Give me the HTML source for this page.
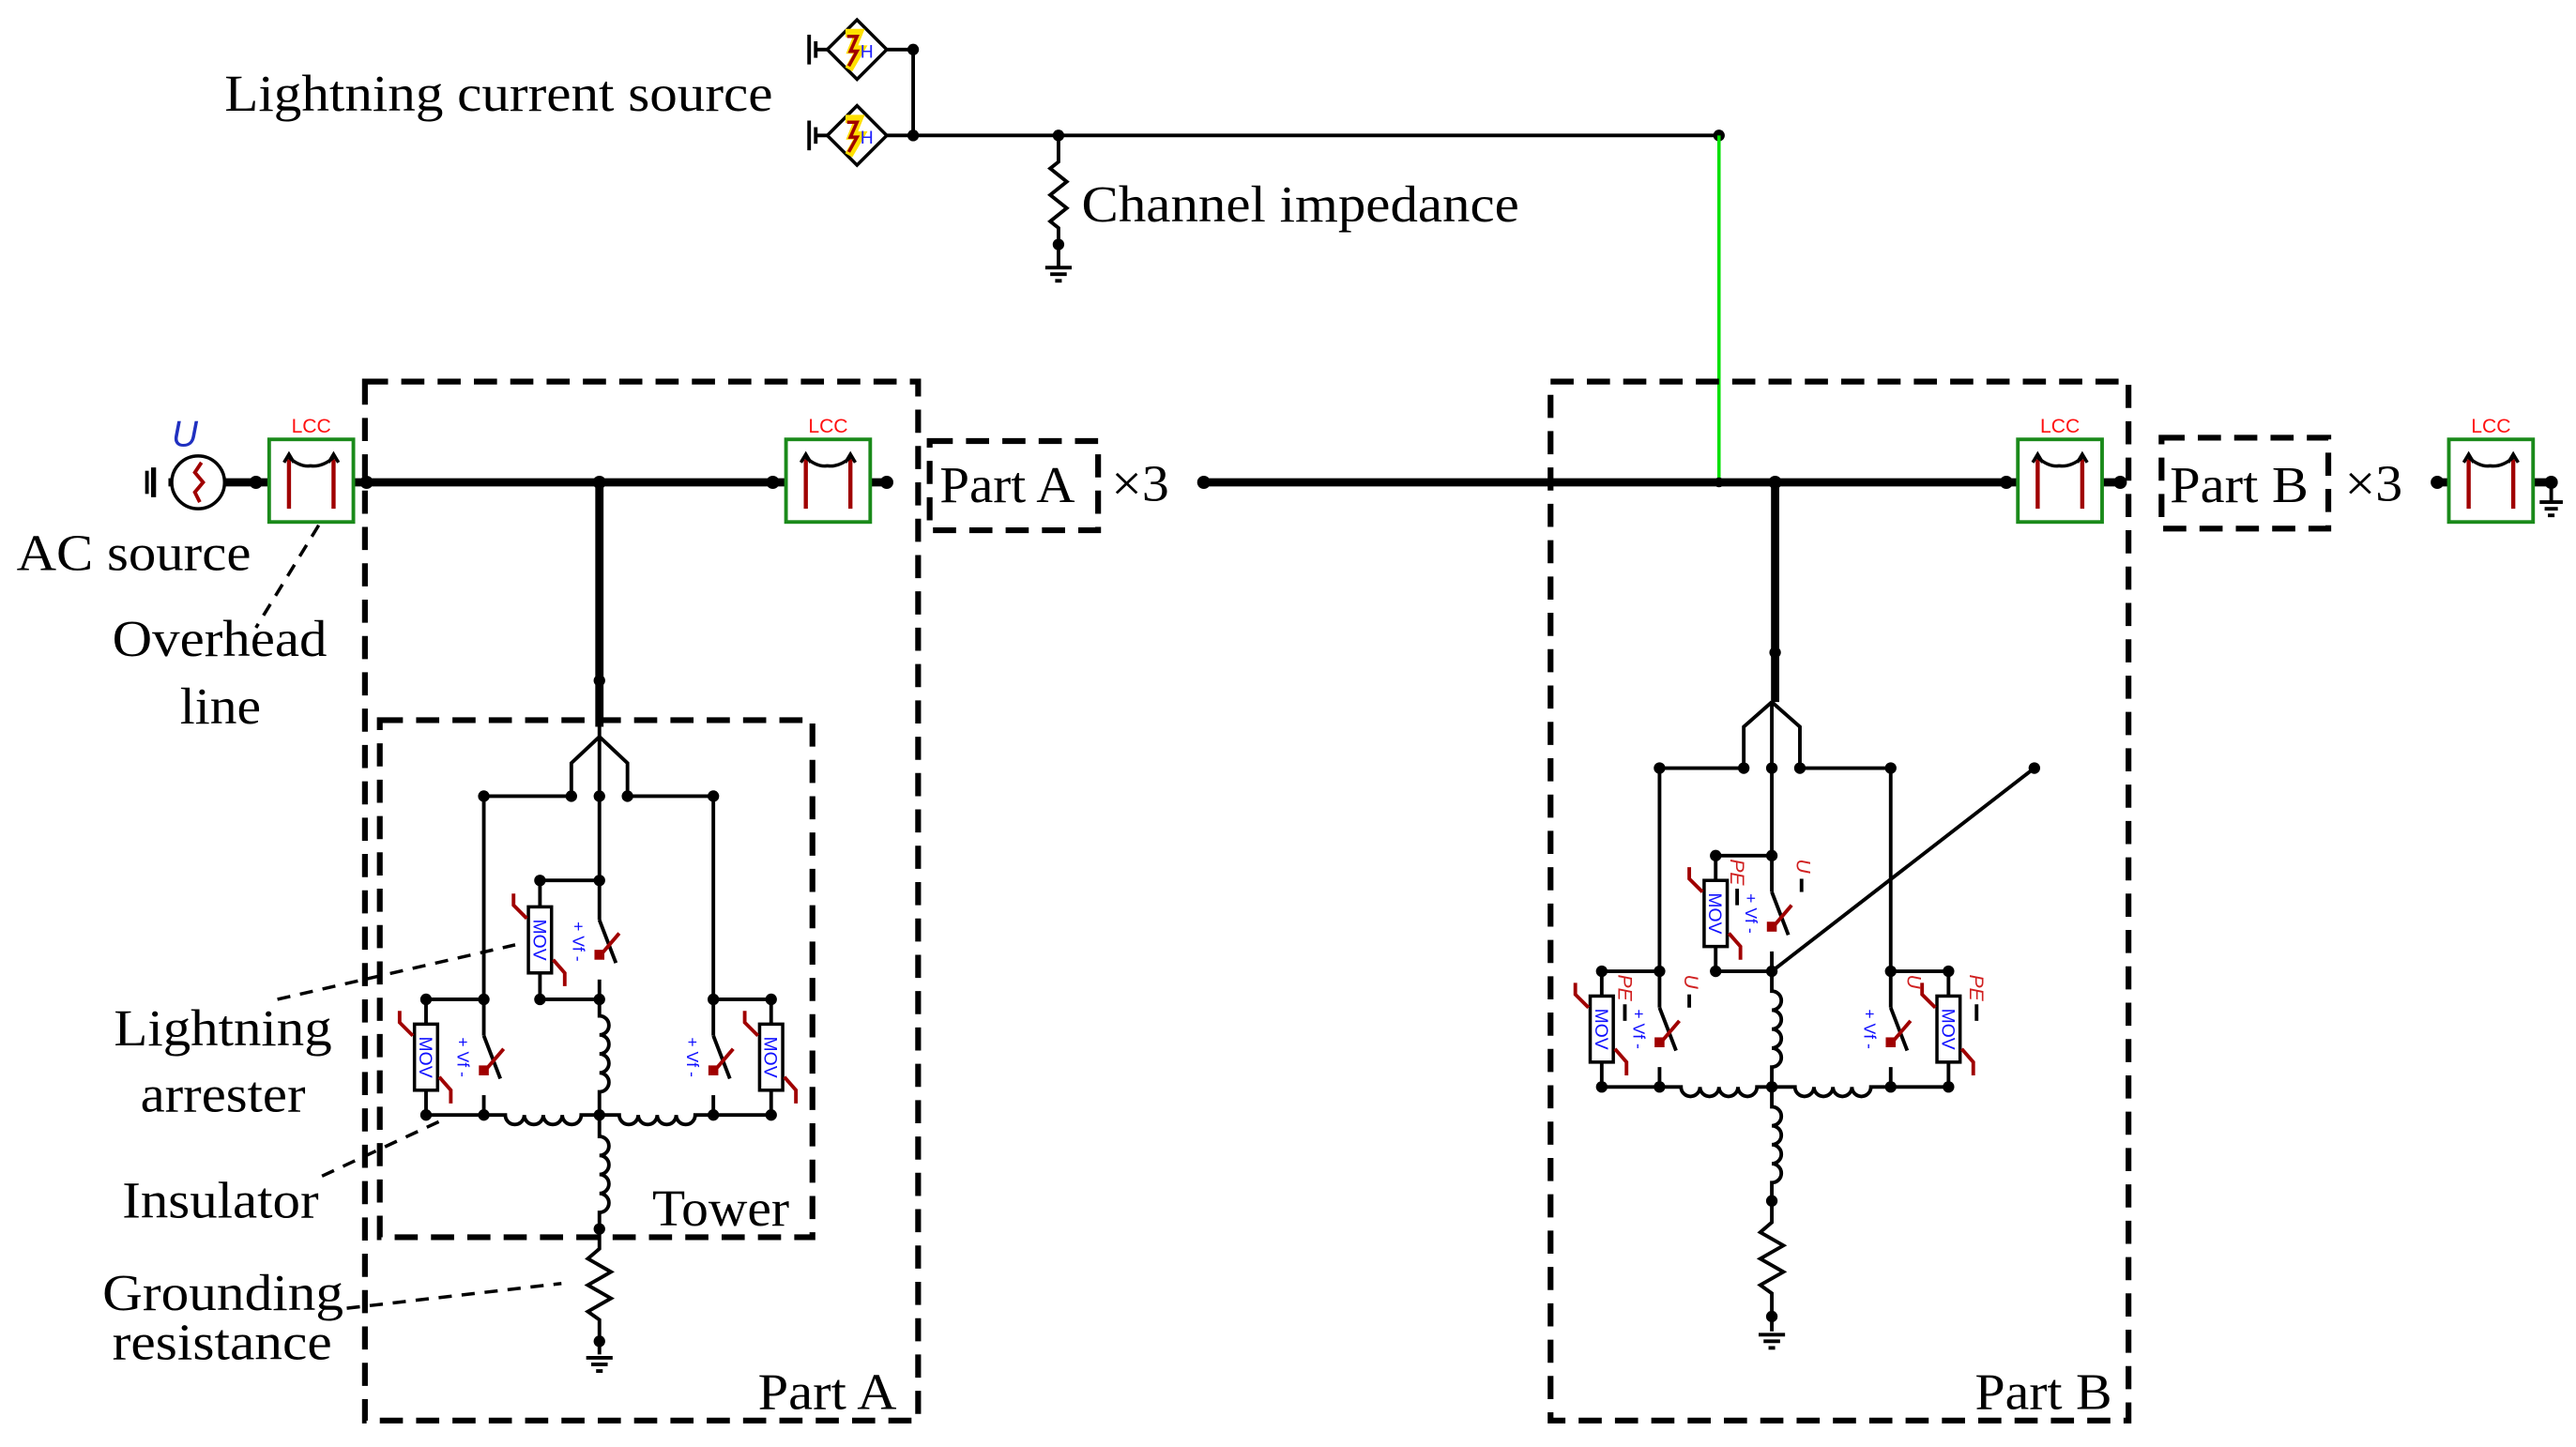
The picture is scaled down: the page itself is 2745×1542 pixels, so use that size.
<!DOCTYPE html>
<html><head><meta charset="utf-8"><style>
html,body{margin:0;padding:0;background:#fff;}
svg{display:block;}
.t{font-family:"Liberation Serif",serif;font-size:31px;fill:#000;}
.w{stroke:#000;stroke-width:2.2;fill:none;}
.b{stroke:#000;stroke-width:5;fill:none;}
.d{stroke:#000;stroke-width:3.5;fill:none;stroke-dasharray:14 8;}
.l{stroke:#000;stroke-width:2;fill:none;stroke-dasharray:8 6;}
.r{stroke:#a00000;stroke-width:2.2;fill:none;}
.mv{font-family:"Liberation Sans",sans-serif;font-size:11px;fill:#1010ff;}
.vf{font-family:"Liberation Sans",sans-serif;font-size:10px;fill:#1010ff;}
.pe{font-family:"Liberation Sans",sans-serif;font-size:12px;fill:#d02020;font-style:italic;}
.lcc{font-family:"Liberation Sans",sans-serif;font-size:12px;fill:#ff1010;}
</style></head><body>
<svg width="2745" height="1542" viewBox="0 0 1560 876" preserveAspectRatio="none" xmlns="http://www.w3.org/2000/svg">
<rect width="1560" height="876" fill="#fff"/>

<!-- Lightning current sources -->
<g>
 <line class="w" x1="490" y1="21" x2="490" y2="39"/><line class="w" x1="494" y1="25" x2="494" y2="35"/><line class="w" x1="494" y1="30" x2="502" y2="30"/>
 <polygon points="519,12 537,30 519,48 501,30" fill="#fff" stroke="#000" stroke-width="2"/>
 <path d="M512,20 L520,20 L516,30 L521,30 L514,42" stroke="#ffe000" stroke-width="5" fill="none"/>
 <path d="M513,22 L519,22 L515,31 L519,31 L514,40" stroke="#a00000" stroke-width="2" fill="none"/>
 <text x="521" y="35" font-family="Liberation Sans,sans-serif" font-size="11" fill="#2020ff">H</text>
 <line class="w" x1="490" y1="73" x2="490" y2="91"/><line class="w" x1="494" y1="77" x2="494" y2="87"/><line class="w" x1="494" y1="82" x2="502" y2="82"/>
 <polygon points="519,64 537,82 519,100 501,82" fill="#fff" stroke="#000" stroke-width="2"/>
 <path d="M512,72 L520,72 L516,82 L521,82 L514,94" stroke="#ffe000" stroke-width="5" fill="none"/>
 <path d="M513,74 L519,74 L515,83 L519,83 L514,92" stroke="#a00000" stroke-width="2" fill="none"/>
 <text x="521" y="87" font-family="Liberation Sans,sans-serif" font-size="11" fill="#2020ff">H</text>
 <line class="w" x1="537" y1="30" x2="553" y2="30"/><line class="w" x1="537" y1="82" x2="1041" y2="82"/>
 <line class="w" x1="553" y1="30" x2="553" y2="82"/>
 <circle cx="553" cy="30" r="3.5"/><circle cx="553" cy="82" r="3.5"/><circle cx="641" cy="82" r="3.5"/><circle cx="1041" cy="82" r="3.5"/>
 <path class="w" d="M641,82 L641,98 L636,102 L646,110 L636,118 L646,126 L636,134 L641,138 L641,162"/>
 <circle cx="641" cy="148" r="3.5"/>
 <line class="w" x1="633" y1="162" x2="649" y2="162"/><line class="w" x1="636" y1="166" x2="646" y2="166"/><line class="w" x1="639" y1="170" x2="643" y2="170"/>
 <line x1="1041" y1="82" x2="1041" y2="292" stroke="#00e000" stroke-width="2"/>
</g>
<text class="t" x="136" y="67" textLength="332" lengthAdjust="spacingAndGlyphs">Lightning current source</text>
<text class="t" x="655" y="134" textLength="265" lengthAdjust="spacingAndGlyphs">Channel impedance</text>

<!-- Dashed boxes -->
<rect class="d" x="221" y="231" width="335" height="629"/>
<rect class="d" x="230" y="436" width="262" height="313"/>
<rect class="d" x="939" y="231" width="350" height="629"/>
<rect class="d" x="563" y="267" width="102" height="54"/>
<rect class="d" x="1309" y="265" width="101" height="55"/>

<!-- Main bus -->
<line class="b" x1="102" y1="292" x2="163" y2="292"/>
<line class="b" x1="214" y1="292" x2="476" y2="292"/>
<line class="b" x1="527" y1="292" x2="537" y2="292"/>
<line class="b" x1="727" y1="292" x2="1222" y2="292"/>
<line class="b" x1="1273" y1="292" x2="1284" y2="292"/>
<line class="b" x1="1474" y1="292" x2="1484" y2="292"/>
<line class="b" x1="1534" y1="292" x2="1545" y2="292"/>
<circle cx="155" cy="292" r="4"/><circle cx="222" cy="292" r="4"/><circle cx="468" cy="292" r="4"/><circle cx="537" cy="292" r="4"/>
<circle cx="363" cy="292" r="4"/><circle cx="729" cy="292" r="4"/><circle cx="1041" cy="292" r="3"/><circle cx="1075" cy="292" r="4"/>
<circle cx="1215" cy="292" r="4"/><circle cx="1284" cy="292" r="4"/><circle cx="1476" cy="292" r="4"/><circle cx="1545" cy="292" r="4"/>
<line class="w" x1="1545" y1="292" x2="1545" y2="304"/><line class="w" x1="1538" y1="304" x2="1552" y2="304"/><line class="w" x1="1541" y1="308" x2="1549" y2="308"/><line class="w" x1="1543" y1="312" x2="1547" y2="312"/>

<!-- AC source -->
<line class="w" x1="89" y1="285" x2="89" y2="299"/><line stroke="#000" stroke-width="3" x1="93" y1="283" x2="93" y2="301"/>
<circle cx="120" cy="292" r="16" fill="#fff" stroke="#000" stroke-width="2"/>
<path class="r" d="M122,280 L118,286 L123,292 L118,298 L121,304"/>
<text x="104" y="270" font-family="Liberation Sans,sans-serif" font-size="22" font-style="italic" fill="#2030c0">U</text>

<!-- LCC blocks -->
<g id="lcc1">
<rect x="163" y="266" width="51" height="50" fill="#fff" stroke="#1a8a1a" stroke-width="2.2"/>
<line stroke="#a00000" stroke-width="2.5" x1="175" y1="278" x2="175" y2="308"/><line stroke="#a00000" stroke-width="2.5" x1="202" y1="278" x2="202" y2="308"/>
<path d="M172,280 L175,275 L178,280 M199,280 L202,275 L205,280" stroke="#000" stroke-width="2" fill="none"/>
<path d="M175,277 Q182,283 188,282 Q195,283 202,277" stroke="#000" stroke-width="2" fill="none"/>
<text class="lcc" x="188.5" y="262" text-anchor="middle">LCC</text>
</g>
<g transform="translate(313,0)">
<rect x="163" y="266" width="51" height="50" fill="#fff" stroke="#1a8a1a" stroke-width="2.2"/>
<line stroke="#a00000" stroke-width="2.5" x1="175" y1="278" x2="175" y2="308"/><line stroke="#a00000" stroke-width="2.5" x1="202" y1="278" x2="202" y2="308"/>
<path d="M172,280 L175,275 L178,280 M199,280 L202,275 L205,280" stroke="#000" stroke-width="2" fill="none"/>
<path d="M175,277 Q182,283 188,282 Q195,283 202,277" stroke="#000" stroke-width="2" fill="none"/>
<text class="lcc" x="188.5" y="262" text-anchor="middle">LCC</text>
</g>
<g transform="translate(1059,0)">
<rect x="163" y="266" width="51" height="50" fill="#fff" stroke="#1a8a1a" stroke-width="2.2"/>
<line stroke="#a00000" stroke-width="2.5" x1="175" y1="278" x2="175" y2="308"/><line stroke="#a00000" stroke-width="2.5" x1="202" y1="278" x2="202" y2="308"/>
<path d="M172,280 L175,275 L178,280 M199,280 L202,275 L205,280" stroke="#000" stroke-width="2" fill="none"/>
<path d="M175,277 Q182,283 188,282 Q195,283 202,277" stroke="#000" stroke-width="2" fill="none"/>
<text class="lcc" x="188.5" y="262" text-anchor="middle">LCC</text>
</g>
<g transform="translate(1320,0)">
<rect x="163" y="266" width="51" height="50" fill="#fff" stroke="#1a8a1a" stroke-width="2.2"/>
<line stroke="#a00000" stroke-width="2.5" x1="175" y1="278" x2="175" y2="308"/><line stroke="#a00000" stroke-width="2.5" x1="202" y1="278" x2="202" y2="308"/>
<path d="M172,280 L175,275 L178,280 M199,280 L202,275 L205,280" stroke="#000" stroke-width="2" fill="none"/>
<path d="M175,277 Q182,283 188,282 Q195,283 202,277" stroke="#000" stroke-width="2" fill="none"/>
<text class="lcc" x="188.5" y="262" text-anchor="middle">LCC</text>
</g>

<text class="t" x="569" y="304" textLength="82" lengthAdjust="spacingAndGlyphs">Part A</text>
<text class="t" x="673" y="303" textLength="35" lengthAdjust="spacingAndGlyphs">×3</text>
<text class="t" x="1314" y="304" textLength="84" lengthAdjust="spacingAndGlyphs">Part B</text>
<text class="t" x="1420" y="303" textLength="35" lengthAdjust="spacingAndGlyphs">×3</text>

<!-- Part A tower -->
<line class="b" x1="363" y1="292" x2="363" y2="440"/>
<circle cx="363" cy="412" r="3.5"/>
<path class="w" d="M363,440 L363,533 M363,446 L346,462 L346,482 M363,446 L380,462 L380,482"/>
<line class="w" x1="293" y1="482" x2="346" y2="482"/><line class="w" x1="380" y1="482" x2="432" y2="482"/>
<line class="w" x1="293" y1="482" x2="293" y2="605"/><line class="w" x1="432" y1="482" x2="432" y2="605"/>
<circle cx="293" cy="482" r="3.5"/><circle cx="346" cy="482" r="3.5"/><circle cx="363" cy="482" r="3.5"/><circle cx="380" cy="482" r="3.5"/><circle cx="432" cy="482" r="3.5"/>

<!-- unit A center -->
<g transform="translate(363,533)">
 <line class="w" x1="0" y1="0" x2="-36" y2="0"/><line class="w" x1="-36" y1="0" x2="-36" y2="72"/><line class="w" x1="-36" y1="72" x2="0" y2="72"/>
 <rect x="-43" y="16" width="14" height="40" fill="#fff" stroke="#000" stroke-width="2"/>
 <text class="mv" transform="translate(-40,36) rotate(90)" text-anchor="middle">MOV</text>
 <polyline class="r" points="-52,8 -52,15 -44,23"/><polyline class="r" points="-28,48 -21,56 -21,64"/>
 <line class="w" x1="0" y1="0" x2="0" y2="24"/><line class="w" x1="0" y1="24" x2="10" y2="50"/><line class="w" x1="0" y1="60" x2="0" y2="72"/>
 <rect x="-3" y="42" width="6" height="6" fill="#a00000"/><line class="r" x1="0" y1="46" x2="12" y2="32"/>
 <text class="vf" transform="translate(-16,37) rotate(90)" text-anchor="middle">+ Vf -</text>
 <circle cx="0" cy="0" r="3.5"/><circle cx="-36" cy="0" r="3.5"/><circle cx="-36" cy="72" r="3.5"/><circle cx="0" cy="72" r="3.5"/>
</g>
<!-- unit A left -->
<g transform="translate(293,605)">
 <line class="w" x1="0" y1="0" x2="-35" y2="0"/><line class="w" x1="-35" y1="0" x2="-35" y2="70"/><line class="w" x1="-35" y1="70" x2="0" y2="70"/>
 <rect x="-42" y="15" width="14" height="40" fill="#fff" stroke="#000" stroke-width="2"/>
 <text class="mv" transform="translate(-39,35) rotate(90)" text-anchor="middle">MOV</text>
 <polyline class="r" points="-51,7 -51,14 -43,22"/><polyline class="r" points="-27,47 -20,55 -20,63"/>
 <line class="w" x1="0" y1="0" x2="0" y2="22"/><line class="w" x1="0" y1="22" x2="10" y2="48"/><line class="w" x1="0" y1="58" x2="0" y2="70"/>
 <rect x="-3" y="40" width="6" height="6" fill="#a00000"/><line class="r" x1="0" y1="44" x2="12" y2="30"/>
 <text class="vf" transform="translate(-16,35) rotate(90)" text-anchor="middle">+ Vf -</text>
 <circle cx="0" cy="0" r="3.5"/><circle cx="-35" cy="0" r="3.5"/><circle cx="-35" cy="70" r="3.5"/><circle cx="0" cy="70" r="3.5"/>
</g>
<!-- unit A right -->
<g transform="translate(432,605)">
 <line class="w" x1="0" y1="0" x2="35" y2="0"/><line class="w" x1="35" y1="0" x2="35" y2="70"/><line class="w" x1="35" y1="70" x2="0" y2="70"/>
 <rect x="28" y="15" width="14" height="40" fill="#fff" stroke="#000" stroke-width="2"/>
 <text class="mv" transform="translate(31,35) rotate(90)" text-anchor="middle">MOV</text>
 <polyline class="r" points="19,7 19,14 27,22"/><polyline class="r" points="43,47 50,55 50,63"/>
 <line class="w" x1="0" y1="0" x2="0" y2="22"/><line class="w" x1="0" y1="22" x2="10" y2="48"/><line class="w" x1="0" y1="58" x2="0" y2="70"/>
 <rect x="-3" y="40" width="6" height="6" fill="#a00000"/><line class="r" x1="0" y1="44" x2="12" y2="30"/>
 <text class="vf" transform="translate(-16,35) rotate(90)" text-anchor="middle">+ Vf -</text>
 <circle cx="0" cy="0" r="3.5"/><circle cx="35" cy="0" r="3.5"/><circle cx="35" cy="70" r="3.5"/><circle cx="0" cy="70" r="3.5"/>
</g>
<!-- A inductors -->
<path class="w" d="M363,605 L363,615 a5.75,5.75 0 0 1 0,11.5 a5.75,5.75 0 0 1 0,11.5 a5.75,5.75 0 0 1 0,11.5 a5.75,5.75 0 0 1 0,11.5 L363,675"/>
<path class="w" d="M293,675 L306,675 a5.75,5.75 0 0 0 11.5,0 a5.75,5.75 0 0 0 11.5,0 a5.75,5.75 0 0 0 11.5,0 a5.75,5.75 0 0 0 11.5,0 L375,675 a5.75,5.75 0 0 0 11.5,0 a5.75,5.75 0 0 0 11.5,0 a5.75,5.75 0 0 0 11.5,0 a5.75,5.75 0 0 0 11.5,0 L432,675"/>
<circle cx="363" cy="675" r="3.5"/>
<path class="w" d="M363,675 L363,688 a5.75,5.75 0 0 1 0,11.5 a5.75,5.75 0 0 1 0,11.5 a5.75,5.75 0 0 1 0,11.5 a5.75,5.75 0 0 1 0,11.5 L363,756 L356,762 L370,770 L356,778 L370,786 L356,794 L363,799 L363,820"/>
<circle cx="363" cy="744" r="3.5"/><circle cx="363" cy="812" r="3.5"/>
<line class="w" x1="355" y1="822" x2="371" y2="822"/><line class="w" x1="358" y1="826" x2="368" y2="826"/><line class="w" x1="361" y1="830" x2="365" y2="830"/>

<!-- Part B tower -->
<line class="b" x1="1075" y1="292" x2="1075" y2="425"/>
<circle cx="1075" cy="395" r="3.5"/>
<path class="w" d="M1073,425 L1073,518 M1073,425 L1056,440 L1056,465 M1073,425 L1090,440 L1090,465"/>
<line class="w" x1="1005" y1="465" x2="1056" y2="465"/><line class="w" x1="1090" y1="465" x2="1145" y2="465"/>
<line class="w" x1="1005" y1="465" x2="1005" y2="588"/><line class="w" x1="1145" y1="465" x2="1145" y2="588"/>
<circle cx="1005" cy="465" r="3.5"/><circle cx="1056" cy="465" r="3.5"/><circle cx="1073" cy="465" r="3.5"/><circle cx="1090" cy="465" r="3.5"/><circle cx="1145" cy="465" r="3.5"/>
<line class="w" x1="1073" y1="588" x2="1232" y2="465"/><circle cx="1232" cy="465" r="3.5"/>

<g transform="translate(1073,518)">
 <line class="w" x1="0" y1="0" x2="-34" y2="0"/><line class="w" x1="-34" y1="0" x2="-34" y2="70"/><line class="w" x1="-34" y1="70" x2="0" y2="70"/>
 <rect x="-41" y="15" width="14" height="40" fill="#fff" stroke="#000" stroke-width="2"/>
 <text class="mv" transform="translate(-38,35) rotate(90)" text-anchor="middle">MOV</text>
 <polyline class="r" points="-50,7 -50,14 -42,22"/><polyline class="r" points="-26,47 -19,55 -19,63"/>
 <line class="w" x1="0" y1="0" x2="0" y2="22"/><line class="w" x1="0" y1="22" x2="10" y2="48"/><line class="w" x1="0" y1="58" x2="0" y2="70"/>
 <rect x="-3" y="40" width="6" height="6" fill="#a00000"/><line class="r" x1="0" y1="44" x2="12" y2="30"/>
 <text class="vf" transform="translate(-16,35) rotate(90)" text-anchor="middle">+ Vf -</text>
 <text class="pe" transform="translate(-25,2) rotate(90)">PE</text><line class="w" x1="-21" y1="20" x2="-21" y2="30"/>
 <text class="pe" transform="translate(15,2) rotate(90)">U</text><line class="w" x1="18" y1="14" x2="18" y2="22"/>
 <circle cx="0" cy="0" r="3.5"/><circle cx="-34" cy="0" r="3.5"/><circle cx="-34" cy="70" r="3.5"/><circle cx="0" cy="70" r="3.5"/>
</g>
<g transform="translate(1005,588)">
 <line class="w" x1="0" y1="0" x2="-35" y2="0"/><line class="w" x1="-35" y1="0" x2="-35" y2="70"/><line class="w" x1="-35" y1="70" x2="0" y2="70"/>
 <rect x="-42" y="15" width="14" height="40" fill="#fff" stroke="#000" stroke-width="2"/>
 <text class="mv" transform="translate(-39,35) rotate(90)" text-anchor="middle">MOV</text>
 <polyline class="r" points="-51,7 -51,14 -43,22"/><polyline class="r" points="-27,47 -20,55 -20,63"/>
 <line class="w" x1="0" y1="0" x2="0" y2="22"/><line class="w" x1="0" y1="22" x2="10" y2="48"/><line class="w" x1="0" y1="58" x2="0" y2="70"/>
 <rect x="-3" y="40" width="6" height="6" fill="#a00000"/><line class="r" x1="0" y1="44" x2="12" y2="30"/>
 <text class="vf" transform="translate(-16,35) rotate(90)" text-anchor="middle">+ Vf -</text>
 <text class="pe" transform="translate(-25,2) rotate(90)">PE</text><line class="w" x1="-21" y1="20" x2="-21" y2="30"/>
 <text class="pe" transform="translate(15,2) rotate(90)">U</text><line class="w" x1="18" y1="14" x2="18" y2="22"/>
 <circle cx="0" cy="0" r="3.5"/><circle cx="-35" cy="0" r="3.5"/><circle cx="-35" cy="70" r="3.5"/><circle cx="0" cy="70" r="3.5"/>
</g>
<g transform="translate(1145,588)">
 <line class="w" x1="0" y1="0" x2="35" y2="0"/><line class="w" x1="35" y1="0" x2="35" y2="70"/><line class="w" x1="35" y1="70" x2="0" y2="70"/>
 <rect x="28" y="15" width="14" height="40" fill="#fff" stroke="#000" stroke-width="2"/>
 <text class="mv" transform="translate(31,35) rotate(90)" text-anchor="middle">MOV</text>
 <polyline class="r" points="19,7 19,14 27,22"/><polyline class="r" points="43,47 50,55 50,63"/>
 <line class="w" x1="0" y1="0" x2="0" y2="22"/><line class="w" x1="0" y1="22" x2="10" y2="48"/><line class="w" x1="0" y1="58" x2="0" y2="70"/>
 <rect x="-3" y="40" width="6" height="6" fill="#a00000"/><line class="r" x1="0" y1="44" x2="12" y2="30"/>
 <text class="vf" transform="translate(-16,35) rotate(90)" text-anchor="middle">+ Vf -</text>
 <text class="pe" transform="translate(10,2) rotate(90)">U</text>
 <text class="pe" transform="translate(48,2) rotate(90)">PE</text><line class="w" x1="52" y1="20" x2="52" y2="30"/>
 <circle cx="0" cy="0" r="3.5"/><circle cx="35" cy="0" r="3.5"/><circle cx="35" cy="70" r="3.5"/><circle cx="0" cy="70" r="3.5"/>
</g>
<path class="w" d="M1073,588 L1073,600 a5.75,5.75 0 0 1 0,11.5 a5.75,5.75 0 0 1 0,11.5 a5.75,5.75 0 0 1 0,11.5 a5.75,5.75 0 0 1 0,11.5 L1073,658"/>
<path class="w" d="M1005,658 L1018,658 a5.75,5.75 0 0 0 11.5,0 a5.75,5.75 0 0 0 11.5,0 a5.75,5.75 0 0 0 11.5,0 a5.75,5.75 0 0 0 11.5,0 L1087,658 a5.75,5.75 0 0 0 11.5,0 a5.75,5.75 0 0 0 11.5,0 a5.75,5.75 0 0 0 11.5,0 a5.75,5.75 0 0 0 11.5,0 L1145,658"/>
<circle cx="1073" cy="658" r="3.5"/>
<path class="w" d="M1073,658 L1073,670 a5.75,5.75 0 0 1 0,11.5 a5.75,5.75 0 0 1 0,11.5 a5.75,5.75 0 0 1 0,11.5 a5.75,5.75 0 0 1 0,11.5 L1073,740 L1066,746 L1080,754 L1066,762 L1080,770 L1066,778 L1073,783 L1073,806"/>
<circle cx="1073" cy="727" r="3.5"/><circle cx="1073" cy="797" r="3.5"/>
<line class="w" x1="1065" y1="808" x2="1081" y2="808"/><line class="w" x1="1068" y1="812" x2="1078" y2="812"/><line class="w" x1="1071" y1="816" x2="1075" y2="816"/>

<!-- Leaders -->
<line class="l" x1="193" y1="318" x2="155" y2="380"/>
<line class="l" x1="168" y1="605" x2="312" y2="572"/>
<line class="l" x1="195" y1="712" x2="268" y2="678"/>
<line class="l" x1="210" y1="792" x2="340" y2="777"/>

<!-- Labels -->
<text class="t" x="10" y="345" textLength="142" lengthAdjust="spacingAndGlyphs">AC source</text>
<text class="t" x="68" y="397" textLength="130" lengthAdjust="spacingAndGlyphs">Overhead</text>
<text class="t" x="109" y="438" textLength="49" lengthAdjust="spacingAndGlyphs">line</text>
<text class="t" x="69" y="633" textLength="132" lengthAdjust="spacingAndGlyphs">Lightning</text>
<text class="t" x="85" y="673" textLength="100" lengthAdjust="spacingAndGlyphs">arrester</text>
<text class="t" x="74" y="737" textLength="119" lengthAdjust="spacingAndGlyphs">Insulator</text>
<text class="t" x="62" y="793" textLength="146" lengthAdjust="spacingAndGlyphs">Grounding</text>
<text class="t" x="68" y="823" textLength="133" lengthAdjust="spacingAndGlyphs">resistance</text>
<text class="t" x="395" y="742" textLength="83" lengthAdjust="spacingAndGlyphs">Tower</text>
<text class="t" x="459" y="853" textLength="84" lengthAdjust="spacingAndGlyphs">Part A</text>
<text class="t" x="1196" y="853" textLength="83" lengthAdjust="spacingAndGlyphs">Part B</text>
</svg>
</body></html>
